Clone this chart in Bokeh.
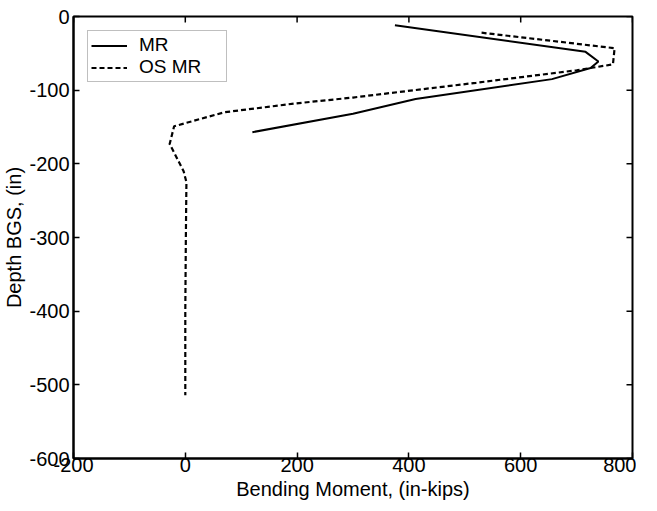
import math
from bokeh.plotting import figure
from bokeh.models import LinearAxis, FixedTicker, Range1d, Legend, LegendItem
from bokeh.embed import file_html
from bokeh.resources import INLINE

# --- data ---
mr_moment = [375, 716, 739, 725, 656, 412, 300, 120]
mr_depth = [-12, -48, -61, -70, -85, -112, -132, -157]

os_moment = [530, 768, 765, 700, 520, 300, 197, 70, -20, -28, -3, 2, 1, 0, 0]
os_depth = [-22, -43, -65, -73, -90, -110, -118, -130, -149, -173, -210, -225, -300, -400, -514]

x_min, x_max = -200, 800
y_min, y_max = -600, 0
x_ticks = [-200, 0, 200, 400, 600, 800]
x_tick_labels = ["-200", "0", "200", "400", "600", "800"]
y_ticks = [-600, -500, -400, -300, -200, -100, 0]
y_tick_labels = ["-600", "-500", "-400", "-300", "-200", "-100", "0"]

FONT = "Liberation Sans"
FS = "20px"

p = figure(width=636, height=502, output_backend="svg",
           toolbar_location=None, x_range=Range1d(x_min, x_max), y_range=Range1d(y_min, y_max),
           x_axis_type=None, y_axis_type=None,
           min_border_left=73, min_border_top=16, min_border_right=4, min_border_bottom=43)
p.background_fill_color = "white"
p.border_fill_color = "white"
p.xgrid.visible = False
p.ygrid.visible = False
p.outline_line_color = "black"
p.outline_line_width = 2

def style(ax):
    ax.axis_line_color = "black"
    ax.axis_line_width = 2
    ax.major_tick_in = 6
    ax.major_tick_out = 0
    ax.major_tick_line_width = 1.5
    ax.minor_tick_line_color = None
    ax.major_label_text_font = FONT
    ax.major_label_text_color = "black"
    ax.major_label_text_font_size = FS
    ax.axis_label_text_font = FONT
    ax.axis_label_text_font_size = FS
    ax.axis_label_text_font_style = "normal"
    ax.axis_label_text_color = "black"

xb = LinearAxis(ticker=FixedTicker(ticks=x_ticks), axis_label="Bending Moment, (in-kips)",
                major_label_overrides=dict(zip(x_ticks, x_tick_labels)))
style(xb)
xb.major_label_standoff = -1
xb.axis_label_standoff = 3
p.add_layout(xb, "below")

yl = LinearAxis(ticker=FixedTicker(ticks=y_ticks), axis_label="Depth BGS, (in)",
                major_label_overrides=dict(zip(y_ticks, y_tick_labels)))
style(yl)
yl.major_label_standoff = 4
yl.axis_label_standoff = 1
p.add_layout(yl, "left")

# mirrored inward ticks on the top and right edges (clipped to the frame)
p.scatter(x_ticks, [y_max] * len(x_ticks), marker="dash", size=12, angle=math.pi / 2,
          line_color="black", line_width=1.5)
p.scatter([x_max] * len(y_ticks), y_ticks, marker="dash", size=12,
          line_color="black", line_width=1.5)

r1 = p.line(mr_moment, mr_depth, line_color="black", line_width=2)
r2 = p.line(os_moment, os_depth, line_color="black", line_width=2.2, line_dash="5 3")

legend = Legend(items=[LegendItem(label="MR", renderers=[r1]),
                       LegendItem(label="OS MR", renderers=[r2])],
                location="top_left")
legend.margin = 14
legend.padding = 3
legend.spacing = 0
legend.glyph_width = 36
legend.glyph_height = 21
legend.label_height = 21
legend.label_width = 84
legend.label_standoff = 12
legend.label_text_font = FONT
legend.label_text_font_size = "19px"
legend.label_text_color = "black"
legend.border_line_color = "#808080"
legend.border_line_width = 1
legend.background_fill_color = "white"
legend.background_fill_alpha = 1
p.add_layout(legend, "center")

open("out.html", "w").write(file_html(p, INLINE))
